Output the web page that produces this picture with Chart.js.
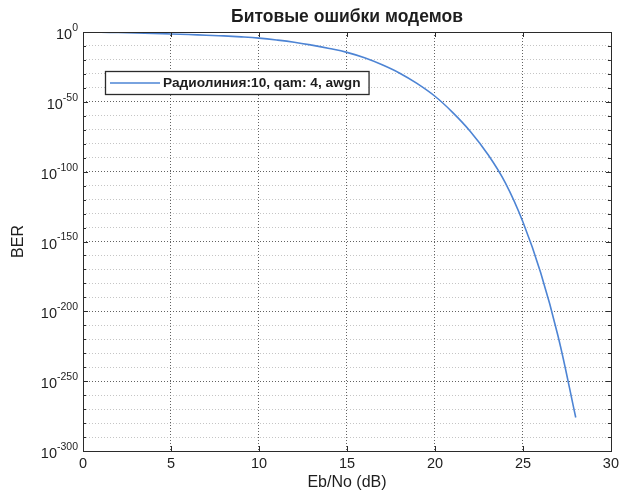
<!DOCTYPE html>
<html>
<head>
<meta charset="utf-8">
<script src="https://cdn.jsdelivr.net/npm/chart.js@4"></script>
<style>
  html, body { margin: 0; padding: 0; background: #fff; }
  #wrap { width: 623px; height: 501px; }
</style>
</head>
<body>
<div id="wrap"><canvas id="grafico"></canvas></div>
<script>
// Eb/No (dB) и показатель степени BER (log10)
const ebno = [1, 2, 3, 4, 5, 6, 7, 8, 9, 10, 11, 12, 13, 14, 15, 16, 17, 18, 19, 20, 21, 22, 23, 24, 25, 26, 27, 28];
const berExp = [-0.2, -0.4, -0.7, -1.0, -1.4, -1.8, -2.3, -2.8, -3.5, -4.4, -5.7, -7.3, -9.4, -11.8, -14.6, -18.5, -23.5, -29.5, -37, -46, -57.5, -71, -87.5, -108, -136, -172, -218, -276];

const xTicks = [0, 5, 10, 15, 20, 25, 30];
const yTickExps = [0, -50, -100, -150, -200, -250, -300];

const titulo = 'Битовые ошибки модемов';
const legenda = 'Радиолиния:10, qam: 4, awgn';
const corLinha = '#4d84d4';
const corTexto = '#1e1e1e';

const fonte = '"Liberation Sans", Arial, sans-serif';

// рамка, засечки внутрь, подписи 10^n, заголовок и легенда
const extras = {
  id: 'extras',
  afterDraw(chart) {
    const { ctx, chartArea: a, scales } = chart;
    const x = scales.x, y = scales.y;
    ctx.save();

    // рамка
    ctx.strokeStyle = '#2b2b2b';
    ctx.lineWidth = 1;
    ctx.setLineDash([]);
    ctx.strokeRect(Math.round(a.left) + 0.5, Math.round(a.top) + 0.5, Math.round(a.width), Math.round(a.height));

    // засечки по Y каждые 10 декад
    ctx.beginPath();
    for (let v = -290; v < 0; v += 10) {
      const py = Math.round(y.getPixelForValue(v)) + 0.5;
      const len = v % 50 === 0 ? 5 : 3;
      ctx.moveTo(a.left, py); ctx.lineTo(a.left + len, py);
      ctx.moveTo(a.right, py); ctx.lineTo(a.right - len, py);
    }
    xTicks.slice(1, -1).forEach(t => {
      const px = Math.round(x.getPixelForValue(t)) + 0.5;
      ctx.moveTo(px, a.bottom); ctx.lineTo(px, a.bottom - 5);
      ctx.moveTo(px, a.top); ctx.lineTo(px, a.top + 5);
    });
    ctx.stroke();

    // подписи оси Y: 10 и степень
    ctx.fillStyle = corTexto;
    ctx.textBaseline = 'middle';
    yTickExps.forEach(e => {
      const py = y.getPixelForValue(e);
      const sup = String(e);
      ctx.font = '10.5px ' + fonte;
      const wSup = ctx.measureText(sup).width;
      ctx.font = '14.5px ' + fonte;
      const wBase = ctx.measureText('10').width;
      const right = a.left - 5;
      ctx.textAlign = 'left';
      ctx.fillText('10', right - wSup - wBase, py + 3);
      ctx.font = '10.5px ' + fonte;
      ctx.fillText(sup, right - wSup, py - 4);
    });

    // заголовок
    ctx.font = 'bold 17.5px ' + fonte;
    ctx.textAlign = 'center';
    ctx.textBaseline = 'middle';
    ctx.fillText(titulo, (a.left + a.right) / 2, 17);

    // легенда
    ctx.font = 'bold 13.7px ' + fonte;
    const tw = ctx.measureText(legenda).width;
    const bx = 105, by = 71, bh = 23;
    const bw = 58 + tw + 8;
    ctx.fillStyle = '#fff';
    ctx.fillRect(bx, by, bw, bh);
    ctx.strokeStyle = '#2b2b2b';
    ctx.lineWidth = 1.3;
    ctx.strokeRect(bx + 0.5, by + 0.5, bw, bh);
    ctx.strokeStyle = corLinha;
    ctx.lineWidth = 1.5;
    ctx.beginPath();
    ctx.moveTo(bx + 5, by + bh / 2 + 0.5);
    ctx.lineTo(bx + 55, by + bh / 2 + 0.5);
    ctx.stroke();
    ctx.fillStyle = corTexto;
    ctx.textAlign = 'left';
    ctx.fillText(legenda, bx + 58, by + bh / 2 + 1);

    ctx.restore();
  }
};

new Chart(document.getElementById('grafico'), {
  type: 'line',
  data: {
    labels: ebno,
    datasets: [{
      label: legenda,
      data: ebno.map((e, i) => ({ x: e, y: berExp[i] })),
      borderColor: corLinha,
      backgroundColor: corLinha,
      borderWidth: 1.6,
      pointRadius: 0,
      tension: 0.4,
      fill: false
    }]
  },
  plugins: [extras],
  options: {
    responsive: true,
    maintainAspectRatio: false,
    animation: false,
    layout: { padding: { left: 8, right: 10, top: 32, bottom: 0 } },
    plugins: {
      legend: { display: false },
      title: { display: false },
      tooltip: { enabled: false }
    },
    scales: {
      x: {
        type: 'linear',
        min: 0,
        max: 30,
        afterFit: s => { s.height = 50; },
        ticks: {
          stepSize: 5,
          padding: 4,
          color: corTexto,
          font: { family: fonte, size: 14.5 }
        },
        grid: {
          drawTicks: false,
          lineWidth: 1,
          color: c => {
            const v = c.tick && c.tick.value;
            return (v === 0 || v === 30) ? 'rgba(0,0,0,0)' : 'rgba(70,70,70,0.85)';
          }
        },
        border: { display: false, dash: [1, 2] },
        title: {
          display: true,
          text: 'Eb/No (dB)',
          color: corTexto,
          font: { family: fonte, size: 16 },
          padding: { top: 0, bottom: 9 }
        }
      },
      y: {
        type: 'linear',
        min: -300,
        max: 0,
        afterFit: s => { s.width = 75; },
        ticks: { stepSize: 10, display: false },
        grid: {
          drawTicks: false,
          lineWidth: 1,
          color: c => {
            const v = c.tick && c.tick.value;
            if (v === undefined || v === 0 || v === -300) return 'rgba(0,0,0,0)';
            return v % 50 === 0 ? 'rgba(70,70,70,0.85)' : 'rgba(150,150,150,0.55)';
          }
        },
        border: { display: false, dash: [1, 2] },
        title: {
          display: true,
          text: 'BER',
          color: corTexto,
          font: { family: fonte, size: 16 },
          padding: { top: 1, bottom: 0 }
        }
      }
    }
  }
});
</script>
</body>
</html>
